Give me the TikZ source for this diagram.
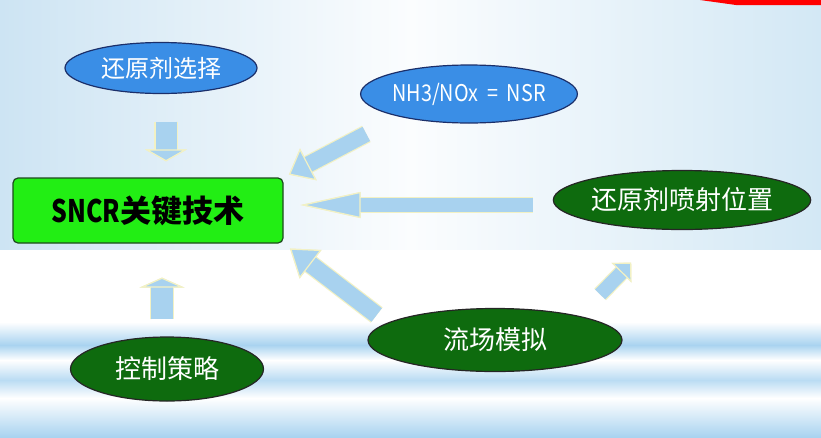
\documentclass[tikz,border=0pt]{standalone}
\usepackage{fontspec}
\setmainfont{Noto Sans CJK SC}
\newfontfamily\narrowfont[FakeStretch=0.86]{Noto Sans CJK SC}
\newfontfamily\condfont[FakeStretch=0.8]{Noto Sans CJK SC}
\usepackage{tikz}
\usetikzlibrary{arrows.meta}
\usetikzlibrary{shapes.geometric}
\definecolor{ovalblue}{HTML}{3A8EE6}
\definecolor{ovalline}{HTML}{1B2F6A}
\definecolor{ovalgreen}{HTML}{0E6B0E}
\definecolor{keygreen}{HTML}{22EE14}
\definecolor{keyline}{HTML}{1D4A1D}
\definecolor{arrowfill}{HTML}{A8D2EF}
\definecolor{arrowedge}{HTML}{F2F1C4}
\definecolor{skyleft}{HTML}{CDE4F3}
\definecolor{skyright}{HTML}{D3E8F5}
\definecolor{bandblue}{HTML}{A9D3F0}

\begin{document}
\begin{tikzpicture}[x=1pt,y=-1pt]

	\tikzstyle{oval}=[ellipse,inner sep=0pt,line width=1.2pt,text=white]
	\tikzstyle{blueoval}=[oval,draw=ovalline,fill=ovalblue,font=\fontsize{24}{28}\selectfont]
	\tikzstyle{greenoval}=[oval,draw=black!85,fill=ovalgreen,font=\fontsize{26}{30}\selectfont]
	\tikzstyle{keybox}=[rectangle,rounded corners=5pt,draw=keyline,fill=keygreen,line width=1.2pt,
		minimum width=270pt,minimum height=65pt,font=\fontsize{31}{35}\selectfont\bfseries]
	\tikzset{fat/.style n args={3}{draw=arrowfill,line width=#1,
		-{Triangle[length=#2,width=#3,fill=arrowfill,color=arrowedge,line width=1.2pt]},
		preaction={draw=arrowedge,line width=#1+2.4pt,-{Triangle[length=#2,width=#3,line width=0pt]}}}}

	\useasboundingbox (0,0) rectangle (821,437);

	% background
	\shade[left color=skyleft,right color=skyright,middle color=white!92!skyleft] (0,0) rectangle (821,250);
	\fill[white] (0,250) rectangle (821,322);
	\shade[top color=white,bottom color=bandblue] (0,322) rectangle (821,345);
	\shade[top color=bandblue,bottom color=white] (0,345) rectangle (821,360);
	\shade[top color=white,bottom color=bandblue!80] (0,360) rectangle (821,380);
	\shade[top color=bandblue!80,bottom color=white] (0,380) rectangle (821,398);
	\shade[top color=white,bottom color=bandblue] (0,398) rectangle (821,437);
	\fill[red] (700,0) -- (736,5) -- (821,5) -- (821,0) -- cycle;

	\node [blueoval,minimum width=192pt,minimum height=51pt] (sel) at (161,68) {还原剂选择};
	\node [blueoval,minimum width=208pt,minimum height=58pt] (nsr) at (469,94)
		{\narrowfont\fontsize{23}{27}\selectfont NH3/NOx\ \ =\ \ NSR};
	\node [keybox] (key) at (148,210.5) {{\condfont SNCR}关键技术};
	\node [greenoval,minimum width=233pt,minimum height=59pt] (pos) at (682,200) {还原剂喷射位置};
	\node [greenoval,minimum width=254pt,minimum height=63pt] (flow) at (495,340) {流场模拟};
	\node [greenoval,minimum width=193pt,minimum height=64pt] (ctrl) at (167,369) {控制策略};

	\draw [fat={21pt}{12pt}{42pt},shorten <=27.5pt,shorten >=16pt]
		([xshift=5pt]sel.south) -- ([xshift=5pt]sel.south |- key.north);
	\draw [fat={16pt}{22pt}{36pt},shorten <=37pt,shorten >=6pt] (nsr.198) -- (key.north east);
	\draw [fat={14pt}{60pt}{26pt},shorten <=20pt,shorten >=17pt]
		([yshift=-5pt]pos.west) -- ([yshift=-5pt]pos.west -| key.east);
	\draw [fat={22pt}{10pt}{45pt},shorten <=17pt,shorten >=34pt]
		([xshift=-5pt]ctrl.north) -- ([xshift=-5pt]ctrl.north |- key.south);
	\draw [fat={17pt}{26pt}{36pt},shorten <=13pt,shorten >=8pt] (flow.171) -- (key.south east);
	\draw [fat={14pt}{14pt}{28pt},shorten <=30pt,shorten >=46pt] (flow.16) -- (pos.238);

\end{tikzpicture}
\end{document}
